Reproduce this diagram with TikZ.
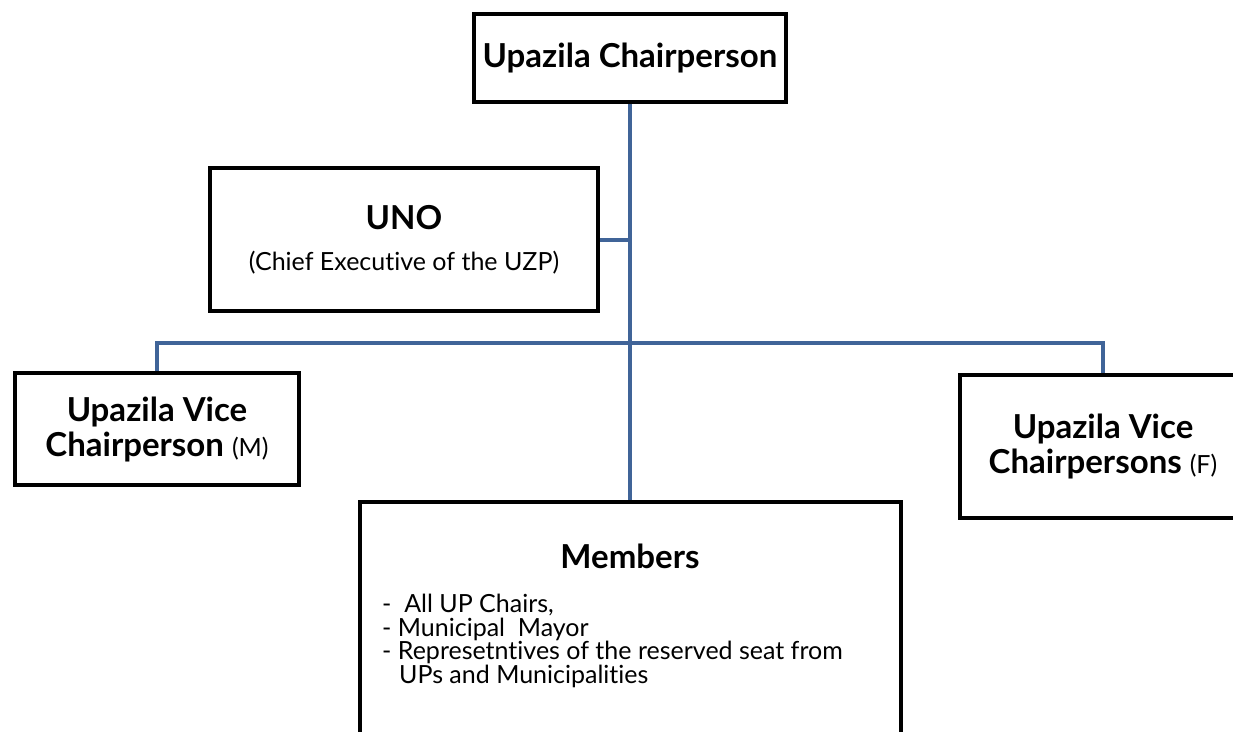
\documentclass[tikz,border=0pt]{standalone}
\usepackage{fontspec}
\setmainfont{Lato}[Ligatures=NoCommon]
\usepackage{xcolor}
\usepackage{tikz}
\usetikzlibrary{positioning}

\definecolor{linkblue}{RGB}{64,100,152}

\begin{document}
\begin{tikzpicture}[
    x=1pt, y=-1pt,
    office/.style={rectangle, draw, line width=4pt, inner sep=0pt, align=center, font=\fontsize{33}{35}\selectfont\bfseries},
    link/.style={draw=linkblue, line width=4pt}
]
\newcommand{\plain}{\fontsize{25}{27}\selectfont\mdseries}
\useasboundingbox (0,0) rectangle (1233,731);
\clip (0,0) rectangle (1233,731);

% Chair on top
\node[office, minimum width=312pt, minimum height=88pt] (chair) at (630,58) {Upazila Chairperson};

% Chief executive
\node[office, minimum width=388pt, minimum height=143pt] (uno) at (404,239.5)
    {UNO\\[6pt]{\plain (Chief Executive of the UZP)}};

% Vice chairpersons
\node[office, minimum width=284pt, minimum height=112pt] (vcm) at (157,429)
    {Upazila Vice\\Chairperson {\plain (M)}};
\node[office, minimum width=286pt, minimum height=143pt] (vcf) at (1103,446)
    {Upazila Vice\\Chairpersons {\plain (F)}};

% Members
\node[office, minimum width=541pt, minimum height=280pt] (members) at (630,642) {};
\node[font=\fontsize{33}{35}\selectfont\bfseries] (memtitle) at (630,556) {Members};
\node[anchor=north west, align=left, inner sep=0pt, font=\fontsize{25}{23.5}\selectfont] (memlist) at (382,594)
    {-\ \ All UP Chairs,\\
     - Municipal\ \ Mayor\\
     - Represetntives of the reserved seat from\\
     \ \ \,UPs and Municipalities};

% Lines
\coordinate (bar) at (630,343);
\draw[link] (chair.south) -- (members.north);
\draw[link] (uno.east) -- (uno.east -| chair.south);
\draw[link] (vcm.north) |- (bar) -| (vcf.north);

\end{tikzpicture}
\end{document}
